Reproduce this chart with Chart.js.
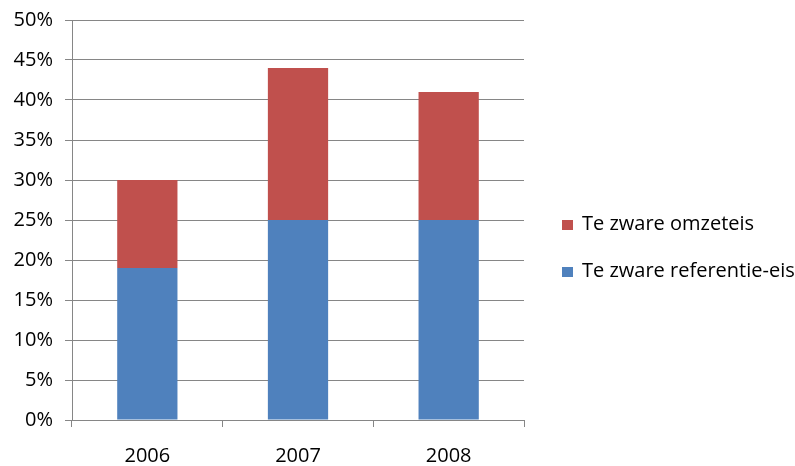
<!DOCTYPE html>
<html>
<head>
<meta charset="utf-8">
<script src="https://cdn.jsdelivr.net/npm/chart.js@4"></script>
<style>
  html, body { margin: 0; padding: 0; background: #fff; }
  #wrap { position: relative; width: 795px; height: 466px; }
  #legend { position: absolute; left: 562px; top: 208px; font: 20px "Open Sans", sans-serif; color: #000; }
  #legend div { height: 47px; line-height: 30px; white-space: nowrap; }
  #legend span { display: inline-block; width: 11px; height: 10px; margin-right: 9px; vertical-align: 0px; }
</style>
</head>
<body>
<div id="wrap">
  <canvas id="myChart" width="795" height="466"></canvas>
  <div id="legend"></div>
</div>
<script>
// categorieën en waarden (in %)
var years = ['2006', '2007', '2008'];
var referentieEis = [19, 25, 25];
var omzetEis = [11, 19, 16];
var seriesNames = ['Te zware referentie-eis', 'Te zware omzeteis'];
var yTicks = [0, 5, 10, 15, 20, 25, 30, 35, 40, 45, 50];

var gridColor = '#868686';
var fontFamily = '"Open Sans", "DejaVu Sans", sans-serif';

function drawChart() {
    var ctx = document.getElementById('myChart').getContext('2d');
    var chart = new Chart(ctx, {
        type: 'bar',
        data: {
            labels: years,
            datasets: [{
                label: seriesNames[0],
                backgroundColor: '#4F81BD',
                data: referentieEis
            }, {
                label: seriesNames[1],
                backgroundColor: '#C0504D',
                data: omzetEis
            }]
        },
        options: {
            responsive: false,
            animation: false,
            layout: { padding: { top: 20, right: 271, left: 0, bottom: 0 } },
            datasets: {
                bar: { categoryPercentage: 1, barPercentage: 0.4 }
            },
            plugins: {
                tooltip: { enabled: false },
                legend: { display: false }
            },
            scales: {
                x: {
                    stacked: true,
                    afterFit: function (s) {
                        s.height = 46;
                        s.paddingLeft = 0;
                        s.paddingRight = 0;
                    },
                    border: { display: false },
                    grid: {
                        offset: true,
                        drawOnChartArea: false,
                        drawTicks: true,
                        tickLength: 7,
                        color: gridColor
                    },
                    ticks: {
                        color: '#000',
                        padding: 17,
                        font: { family: fontFamily, size: 20 }
                    }
                },
                y: {
                    stacked: true,
                    min: 0,
                    max: 50,
                    afterFit: function (s) {
                        s.width = 72;
                        s.paddingTop = 0;
                        s.paddingBottom = 0;
                    },
                    afterBuildTicks: function (s) {
                        s.ticks = yTicks.map(function (v) { return { value: v }; });
                    },
                    border: { display: true, color: gridColor, width: 1 },
                    grid: {
                        color: gridColor,
                        lineWidth: 1,
                        tickLength: 7
                    },
                    ticks: {
                        color: '#000',
                        padding: 12,
                        font: { family: fontFamily, size: 20 },
                        callback: function (v) { return v + '%'; }
                    }
                }
            }
        }
    });

    // legenda (omgekeerde volgorde, zoals in Excel)
    var legend = document.getElementById('legend');
    chart.data.datasets.slice().reverse().forEach(function (ds) {
        var row = document.createElement('div');
        var box = document.createElement('span');
        box.style.background = ds.backgroundColor;
        row.appendChild(box);
        row.appendChild(document.createTextNode(ds.label));
        legend.appendChild(row);
    });
}

Promise.all([
    document.fonts.load('20px "Open Sans"')
]).then(drawChart, drawChart);
</script>
</body>
</html>
